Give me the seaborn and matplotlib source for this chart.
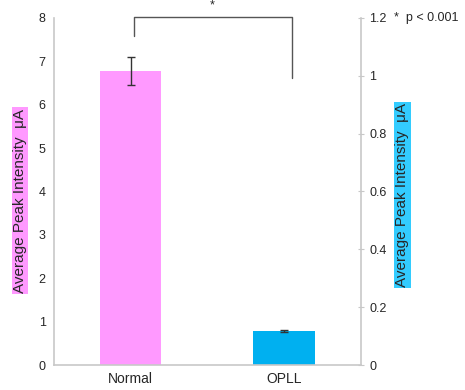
import matplotlib
matplotlib.use("Agg")
import matplotlib.pyplot as plt
import seaborn as sns
import pandas as pd

# Dane
groups = ["Normal", "OPLL"]
peak_mean = [6.78, 0.78]
peak_err = [0.33, 0.03]
bar_colors = ["#FF99FF", "#00B0F0"]
left_ticks = [0, 1, 2, 3, 4, 5, 6, 7, 8]
right_ticks = [0, 0.2, 0.4, 0.6, 0.8, 1, 1.2]
right_tick_labels = ["0", "0.2", "0.4", "0.6", "0.8", "1", "1.2"]

sns.set_style("white")
plt.rcParams["font.family"] = ["Liberation Sans", "DejaVu Sans"]

df = pd.DataFrame({"group": groups, "mean": peak_mean})

fig = plt.figure(figsize=(4.65, 3.9), dpi=100)
ax = fig.add_axes([0.116, 0.064, 0.66, 0.89])

sns.barplot(data=df, x="group", y="mean", hue="group", palette=bar_colors,
            width=0.4, legend=False, ax=ax, edgecolor="none", saturation=1)
ax.errorbar(range(len(groups)), peak_mean, yerr=peak_err, fmt="none",
            ecolor="#333333", elinewidth=1, capsize=3, capthick=1)

ax.set_xlim(-0.5, 1.5)
ax.set_ylim(0, 8)
ax.set_yticks(left_ticks)
ax.set_xlabel("")
ax.set_ylabel("")
ax.tick_params(axis="both", labelsize=9, length=0, pad=6)
ax.tick_params(axis="x", labelsize=10, pad=5)
for s in ["top", "right"]:
    ax.spines[s].set_visible(False)
for s in ["left", "bottom"]:
    ax.spines[s].set_color("#c8c8c8")
    ax.spines[s].set_linewidth(1.2)

# Prawa oś
ax2 = ax.twinx()
ax2.set_ylim(0, 1.2)
ax2.set_yticks(right_ticks)
ax2.set_yticklabels(right_tick_labels)
ax2.tick_params(axis="y", labelsize=9, length=4, direction="inout",
                color="#c8c8c8", pad=4)
for s in ["top", "left", "bottom"]:
    ax2.spines[s].set_visible(False)
ax2.spines["right"].set_color("#c8c8c8")
ax2.spines["right"].set_linewidth(1.2)

# Etykiety osi z tłem
fig.text(0.043, 0.485, "Average Peak Intensity  \u03bcA", rotation=90,
         ha="center", va="center", fontsize=11,
         bbox=dict(facecolor="#FF99FF", edgecolor="none", pad=1))
fig.text(0.865, 0.5, "Average Peak Intensity  \u03bcA", rotation=90,
         ha="center", va="center", fontsize=11,
         bbox=dict(facecolor="#33CCFF", edgecolor="none", pad=1))

# Znacznik istotności
ax.plot([0.02, 0.02, 1.05, 1.05], [7.58, 8.02, 8.02, 6.62],
        color="#555555", lw=1, clip_on=False)
ax.text(0.53, 8.15, "*", ha="center", va="bottom", fontsize=9)
fig.text(0.848, 0.955, "*  p < 0.001", ha="left", va="center", fontsize=9)

plt.savefig("out.png", dpi=100)
